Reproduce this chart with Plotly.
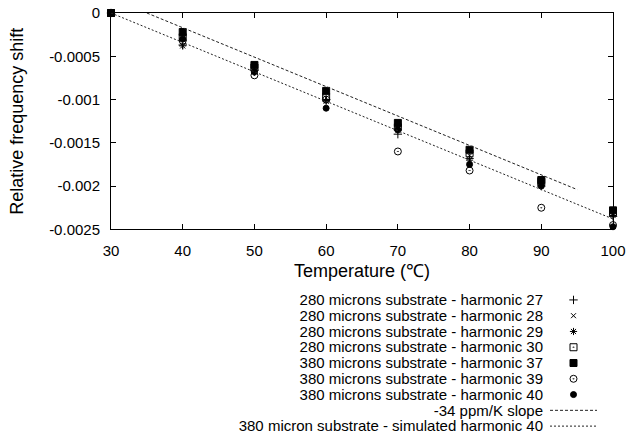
import plotly.graph_objects as go

temps = [30, 40, 50, 60, 70, 80, 90, 100]

h27 = [0, -0.00037, -0.00066, -0.00100, -0.00140, -0.00168, -0.00200, -0.00235]
h28 = [0, -0.00030, -0.00064, -0.00098, -0.00133, -0.00165, -0.00197, -0.00232]
h29 = [0, -0.00038, -0.00068, -0.00102, -0.00135, -0.00170, -0.00199, -0.00234]
h30 = [0, -0.00028, -0.00063, -0.00097, -0.00132, -0.00162, -0.00195, -0.00230]
h37 = [0, -0.00022, -0.00060, -0.00090, -0.00127, -0.00158, -0.00193, -0.00228]
h39 = [0, -0.00032, -0.00072, -0.00100, -0.00160, -0.00182, -0.00225, -0.00245]
h40 = [0, -0.00030, -0.00068, -0.00110, -0.00135, -0.00175, -0.00200, -0.00247]

slope_x = [35, 95]
slope_y = [0, -0.00204]

sim_x = [30, 40, 50, 60, 70, 80, 90, 100]
sim_y = [0, -0.00034, -0.00068, -0.00102, -0.00136, -0.00170, -0.00204, -0.00238]

labels = [
    "280 microns substrate - harmonic 27",
    "280 microns substrate - harmonic 28",
    "280 microns substrate - harmonic 29",
    "280 microns substrate - harmonic 30",
    "380 microns substrate - harmonic 37",
    "380 microns substrate - harmonic 39",
    "380 microns substrate - harmonic 40",
    "-34 ppm/K slope",
    "380 micron substrate - simulated harmonic 40",
]

x_ticks = [30, 40, 50, 60, 70, 80, 90, 100]
y_ticks = [0, -0.0005, -0.001, -0.0015, -0.002, -0.0025]
y_ticktext = ["0", "-0.0005", "-0.001", "-0.0015", "-0.002", "-0.0025"]

series = [h27, h28, h29, h30, h37, h39, h40]
symbols = ["cross-thin-open", "x-thin-open", "asterisk-open", "square-open-dot",
           "square", "circle-open-dot", "circle"]
sizes = [6, 5, 6, 7, 7, 7, 6]

FONT = "Liberation Sans, Arial, sans-serif"
fig = go.Figure()

for vals, sym, sz, lab in zip(series, symbols, sizes, labels[:7]):
    mk = dict(symbol=sym, size=sz, color="black", line=dict(color="black", width=1))
    fig.add_trace(go.Scatter(x=temps, y=vals, mode="markers", name=lab, marker=mk,
                             cliponaxis=False, showlegend=False))
    # legend sample
    fig.add_trace(go.Scatter(x=[0.5], y=[lab], mode="markers", marker=mk,
                             xaxis="x2", yaxis="y2", showlegend=False, hoverinfo="skip"))

line_styles = [dict(color="#222", width=1, dash="3px,2px"),
               dict(color="#222", width=1, dash="2px,2px")]
for (lx, ly), st, lab in zip([(slope_x, slope_y), (sim_x, sim_y)], line_styles, labels[7:]):
    fig.add_trace(go.Scatter(x=lx, y=ly, mode="lines", name=lab, line=st,
                             cliponaxis=False, showlegend=False))
    fig.add_trace(go.Scatter(x=[0, 1], y=[lab, lab], mode="lines", line=st,
                             xaxis="x2", yaxis="y2", showlegend=False, hoverinfo="skip"))

W, H = 630, 446
ML, MR, MT, MB = 111, 17, 12, 4
PW = W - ML - MR
PH = H - MT - MB
fig.update_layout(
    width=W, height=H,
    margin=dict(l=ML, r=MR, t=MT, b=MB),
    paper_bgcolor="white", plot_bgcolor="white",
    font=dict(family=FONT, size=15, color="black"),
    showlegend=False,
    xaxis=dict(range=[30, 100], domain=[0, 1], tickvals=x_ticks, ticks="inside", ticklen=5,
               showline=True, linecolor="black", linewidth=1, mirror="ticks",
               showgrid=False, zeroline=False, tickcolor="black", ticklabelstandoff=8,
               title=dict(text="Temperature (℃)", standoff=6), anchor="y"),
    yaxis=dict(range=[-0.0025, 0], domain=[209 / PH, 1], tickvals=y_ticks,
               ticktext=y_ticktext, ticks="inside", ticklen=5,
               showline=True, linecolor="black", linewidth=1, mirror="ticks",
               showgrid=False, zeroline=False, tickcolor="black", ticklabelstandoff=7,
               title=dict(text="Relative frequency shift", standoff=20), anchor="x"),
    xaxis2=dict(domain=[439 / PW, 486 / PW], range=[0, 1],
                visible=False, anchor="y2"),
    yaxis2=dict(domain=[0, 145 / PH], type="category",
                categoryorder="array", categoryarray=labels,
                tickmode="array", tickvals=labels, ticktext=labels,
                range=[len(labels) - 0.5, -0.5], anchor="x2",
                showline=False, showgrid=False, zeroline=False, ticks="",
                ticklabelstandoff=6),
)

fig.write_html("out.html", config={"displayModeBar": False},
               post_script="document.body.style.margin='0';document.body.style.overflow='hidden';")
